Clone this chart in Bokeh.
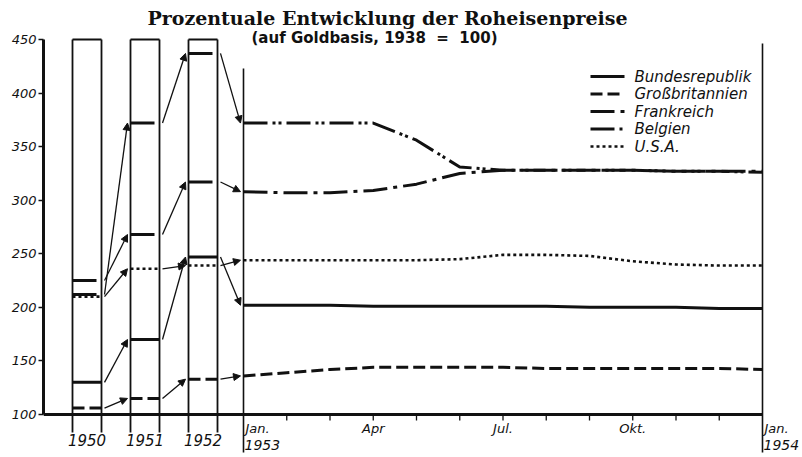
from bokeh.plotting import figure
from bokeh.models import Range1d, FixedTicker, Arrow, NormalHead, ColumnDataSource
from bokeh.embed import file_html
from bokeh.resources import INLINE
from bokeh.core.properties import value

# ---------------- data ----------------
series = ["Bundesrepublik", "Großbritannien", "Frankreich", "Belgien", "U.S.A."]
years = ["1950", "1951", "1952"]
# annual averages (boxes)
bund_years = [130, 170, 247]
gb_years = [106, 115, 133]
fr_years = [225, 268, 317]
bel_years = [212, 372, 437]
usa_years = [210, 236, 239]
# monthly values Jan 1953 .. Jan 1954
month_index = list(range(13))
bund_months = [202, 202, 202, 201, 201, 201, 201, 201, 200, 200, 200, 199, 199]
gb_months = [136, 139, 142, 144, 144, 144, 144, 143, 143, 143, 143, 143, 142]
fr_months = [308, 307, 307, 309, 315, 325, 328, 328, 328, 328, 327, 327, 327]
bel_months = [372, 372, 372, 372, 356, 331, 328, 328, 328, 328, 327, 327, 326]
usa_months = [244, 244, 244, 244, 244, 245, 249, 249, 248, 243, 240, 239, 239]
y_ticks = [100, 150, 200, 250, 300, 350, 400, 450]
month_tick_pos = [3, 6, 9]
month_tick_labels = ["Apr", "Jul.", "Okt."]
edge_labels = [("Jan.", "1953"), ("Jan.", "1954")]
title = "Prozentuale Entwicklung der Roheisenpreise"
subtitle = "(auf Goldbasis, 1938 \u00a0=\u00a0 100)"

year_vals = [bund_years, gb_years, fr_years, bel_years, usa_years]
month_vals = [bund_months, gb_months, fr_months, bel_months, usa_months]
dashes = ["solid", "12 5", "24 6 4 6", "24 5 3 3 3 5", "3 3"]
widths = [3, 3, 3, 3, 2.6]

# ---------------- layout helpers (page pixels -> data) ----------------
W, H = 800, 455
M = 0
X0_PX = 243.0          # Jan 1953
PPM = 43.25            # pixels per month
Y100_PX = 414.0        # value 100
PPU = 375.0 / 350.0    # pixels per index point
LEFT_PX = 43


def X(px):
    return (px - X0_PX) / PPM


def Y(py):
    return 100 + (Y100_PX - py) / PPU


def dX(dpx):
    return dpx / PPM


p = figure(width=W, height=H,
           x_range=Range1d(X(LEFT_PX), X(M + W)),
           y_range=Range1d(Y(M + H), Y(M)),
           output_backend="svg", toolbar_location=None,
           x_axis_location=None, y_axis_location="left",
           min_border_left=LEFT_PX - M, min_border_right=0,
           min_border_top=0, min_border_bottom=0)
p.outline_line_color = None
p.grid.visible = False
p.background_fill_color = "white"
p.border_fill_color = "white"

ink = "#111111"

# y axis
ax = p.yaxis[0]
ax.ticker = FixedTicker(ticks=y_ticks)
ax.bounds = (100, 450)
ax.axis_line_width = 3
ax.axis_line_color = ink
ax.major_tick_line_width = 1.5
ax.major_tick_line_color = ink
ax.major_tick_out = 5
ax.major_tick_in = 0
ax.minor_tick_out = 0
ax.minor_tick_in = 0
ax.major_label_standoff = 2
ax.major_label_text_font = "DejaVu Sans"
ax.major_label_text_font_style = "italic"
ax.major_label_text_font_size = "13px"
ax.major_label_text_color = ink

# bottom axis line and right border
p.segment(x0=[X(LEFT_PX)], y0=[100], x1=[X(762)], y1=[100], line_width=3, line_color=ink)
p.segment(x0=[0, 12], y0=[Y(452), Y(452)], x1=[0, 12], y1=[Y(68), Y(43)],
          line_width=1.6, line_color=ink)
# month ticks
mt = list(range(1, 12))
p.segment(x0=mt, y0=[100] * len(mt), x1=mt, y1=[Y(420)] * len(mt),
          line_width=1.3, line_color=ink)

# annual boxes
box_left_px = [72, 130, 188]
box_w_px = 29
bl = [X(b) for b in box_left_px]
br = [X(b + box_w_px) for b in box_left_px]
p.segment(x0=bl + br, y0=[Y(432)] * 6, x1=bl + br, y1=[450] * 6,
          line_width=1.8, line_color=ink)
p.segment(x0=bl, y0=[450] * 3, x1=br, y1=[450] * 3, line_width=1.8, line_color=ink)

# annual levels inside boxes + arrows to next period
arr = {"x0": [], "y0": [], "x1": [], "y1": []}
for vals_y, vals_m, dash, lw in zip(year_vals, month_vals, dashes, widths):
    p.segment(x0=bl, y0=vals_y, x1=br, y1=vals_y,
              line_width=lw, line_color=ink, line_dash=dash)
    targets = vals_y[1:] + [vals_m[0]]
    next_left = bl[1:] + [0]
    for i in range(3):
        arr["x0"].append(br[i] + dX(3))
        arr["y0"].append(vals_y[i])
        arr["x1"].append(next_left[i] - dX(3))
        arr["y1"].append(targets[i])

p.add_layout(Arrow(x_start="x0", y_start="y0", x_end="x1", y_end="y1",
                   source=ColumnDataSource(arr), line_width=1.3, line_color=ink,
                   end=NormalHead(size=7, fill_color=ink, line_color=ink, line_width=1)))

# monthly lines
for vals_m, dash, lw in zip(month_vals, dashes, widths):
    p.line(month_index, vals_m, line_width=lw, line_color=ink, line_dash=dash)

# legend
leg_y_px = [76, 93.5, 111, 128.5, 146]
for name, dash, lw, ly in zip(series, dashes, widths, leg_y_px):
    p.segment(x0=[X(590)], y0=[Y(ly)], x1=[X(624)], y1=[Y(ly)],
              line_width=lw, line_color=ink, line_dash=dash)
p.text(x=[X(634)] * 5, y=[Y(v) for v in leg_y_px], text=series,
       text_font=value("DejaVu Sans"), text_font_style="italic",
       text_font_size="15px", text_color=ink,
       text_align="left", text_baseline="middle")

# x labels
box_centers = [(a + b) / 2 for a, b in zip(bl, br)]
p.text(x=box_centers, y=[Y(439)] * 3, text=years,
       text_font=value("DejaVu Sans"), text_font_style="italic",
       text_font_size="15px", text_color=ink,
       text_align="center", text_baseline="middle")
p.text(x=month_tick_pos, y=[Y(428)] * 3, text=month_tick_labels,
       text_font=value("DejaVu Sans"), text_font_style="italic",
       text_font_size="13px", text_color=ink,
       text_align="center", text_baseline="middle")
p.text(x=[dX(2), 12 + dX(2)], y=[Y(428)] * 2, text=[a for a, b in edge_labels],
       text_font=value("DejaVu Sans"), text_font_style="italic",
       text_font_size="13px", text_color=ink,
       text_align="left", text_baseline="middle")
p.text(x=[dX(1), 12 + dX(1)], y=[Y(444)] * 2, text=[b for a, b in edge_labels],
       text_font=value("DejaVu Sans"), text_font_style="italic",
       text_font_size="14px", text_color=ink,
       text_align="left", text_baseline="middle")

# titles
p.text(x=[X(387)], y=[Y(17)], text=[title],
       text_font=value("DejaVu Serif"), text_font_style="bold",
       text_font_size="19px", text_color=ink,
       text_align="center", text_baseline="middle")
p.text(x=[X(374)], y=[Y(37)], text=[subtitle],
       text_font=value("DejaVu Sans"), text_font_style="bold",
       text_font_size="15px", text_color=ink,
       text_align="center", text_baseline="middle")

open("out.html", "w").write(file_html(p, INLINE))
